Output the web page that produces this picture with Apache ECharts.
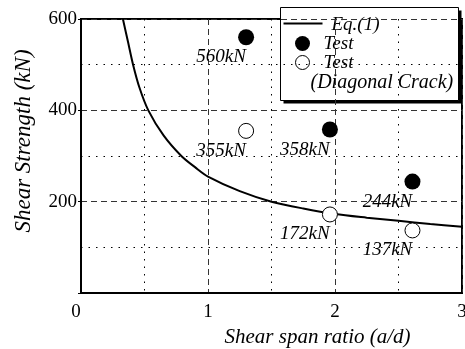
<!DOCTYPE html>
<html>
<head>
<meta charset="utf-8">
<script src="https://cdn.jsdelivr.net/npm/echarts@6/dist/echarts.min.js"></script>
<style>
  html, body { margin: 0; padding: 0; background: #fff; }
  #chart { width: 465px; height: 349px; }
</style>
</head>
<body>
<div id="chart"></div>
<script>
// Shear strength vs. shear span ratio
const xTicks = [0, 1, 2, 3];
const yTicks = [0, 200, 400, 600];

// Eq.(1) curve, sampled points (a/d, kN)
const eqCurve = [
  [0.33, 600], [0.37, 550], [0.41, 500], [0.46, 450], [0.53, 400],
  [0.65, 345], [0.79, 300], [0.90, 275], [1.0, 255], [1.25, 223],
  [1.5, 200], [1.75, 185], [2.0, 173], [2.25, 165], [2.5, 158],
  [2.75, 151], [3.0, 145]
];

// Test results (a/d, kN)
const testX = [1.3, 1.96, 2.61];
const testPeak = [560, 358, 244];
const testDiagonal = [355, 172, 137];

const serif = 'Liberation Serif';

const chart = echarts.init(document.getElementById('chart'), null, { renderer: 'canvas' });

const pointLabel = {
  show: true,
  position: 'inside',
  offset: [-25, 20],
  formatter: p => p.value[1] + 'kN',
  fontFamily: serif,
  fontStyle: 'italic',
  fontSize: 19,
  color: '#000'
};

const legendFont = { fontFamily: serif, fontStyle: 'italic', fontSize: 19, fill: '#000', verticalAlign: 'middle' };

chart.setOption({
  animation: false,
  backgroundColor: '#fff',
  grid: {
    left: 81, top: 19, right: 3, bottom: 56,
    outerBoundsMode: 'none',
    containLabel: false,
    show: true, borderColor: '#000', borderWidth: 2
  },
  xAxis: {
    type: 'value',
    min: xTicks[0], max: xTicks[xTicks.length - 1], interval: 1,
    name: 'Shear span ratio (a/d)',
    nameLocation: 'middle',
    nameGap: 28,
    nameTextStyle: {
      fontFamily: serif, fontStyle: 'italic', fontSize: 21, color: '#000',
      padding: [0, 0, 0, 92]
    },
    axisLine: { show: true, lineStyle: { color: '#000', width: 2 } },
    axisTick: { show: false },
    axisLabel: {
      fontFamily: serif, fontSize: 19, color: '#000', margin: 10,
      formatter: v => v === 0 ? '{z|0}' : String(v),
      rich: { z: { fontFamily: serif, fontSize: 19, color: '#000', padding: [0, 10, 0, 0] } }
    },
    splitLine: { show: true, lineStyle: { color: '#333', width: 1, type: [6, 4] } },
    minorTick: { show: false, splitNumber: 2 },
    minorSplitLine: { show: true, lineStyle: { color: '#000', width: 1, type: [1.5, 6] } }
  },
  yAxis: {
    type: 'value',
    min: yTicks[0], max: yTicks[yTicks.length - 1], interval: 200,
    name: 'Shear Strength (kN)',
    nameLocation: 'middle',
    nameGap: 46,
    nameTextStyle: {
      fontFamily: serif, fontStyle: 'italic', fontSize: 23, color: '#000',
      padding: [0, 0, 0, 30]
    },
    axisLine: { show: true, lineStyle: { color: '#000', width: 2 } },
    axisTick: { show: true, inside: false, length: 3, lineStyle: { color: '#000' } },
    axisLabel: {
      fontFamily: serif, fontSize: 19, color: '#000', margin: 4,
      formatter: v => v === 0 ? '' : String(v)
    },
    splitLine: { show: true, lineStyle: { color: '#333', width: 1, type: [6, 4] } },
    minorTick: { show: false, splitNumber: 2 },
    minorSplitLine: { show: true, lineStyle: { color: '#000', width: 1, type: [1.5, 6] } }
  },
  series: [
    {
      name: 'Eq.(1)',
      type: 'line',
      data: eqCurve,
      smooth: 0.3,
      symbol: 'none',
      lineStyle: { color: '#000', width: 2 },
      z: 3
    },
    {
      name: 'Test',
      type: 'scatter',
      data: testX.map((x, i) => [x, testPeak[i]]),
      symbol: 'circle',
      symbolSize: 16,
      itemStyle: { color: '#000', opacity: 1 },
      label: pointLabel,
      z: 4
    },
    {
      name: 'Test (Diagonal Crack)',
      type: 'scatter',
      data: testX.map((x, i) => [x, testDiagonal[i]]),
      symbol: 'circle',
      symbolSize: 15,
      itemStyle: { color: '#fff', borderColor: '#000', borderWidth: 1, opacity: 1 },
      label: pointLabel,
      z: 5
    }
  ],
  graphic: [
    {
      type: 'group',
      left: 280, top: 7,
      z: 100,
      children: [
        { type: 'rect', shape: { x: 3, y: 3, width: 178, height: 93 }, style: { fill: '#000' } },
        { type: 'rect', shape: { x: 0, y: 0, width: 178, height: 93 }, style: { fill: '#fff', stroke: '#000', lineWidth: 1 } },
        { type: 'line', shape: { x1: 3, y1: 16, x2: 42, y2: 16 }, style: { stroke: '#000', lineWidth: 2 } },
        { type: 'text', x: 51, y: 17, style: Object.assign({ text: 'Eq.(1)' }, legendFont) },
        { type: 'circle', shape: { cx: 22, cy: 36, r: 7.5 }, style: { fill: '#000' } },
        { type: 'text', x: 43, y: 36, style: Object.assign({ text: 'Test' }, legendFont) },
        { type: 'circle', shape: { cx: 22, cy: 55, r: 7 }, style: { fill: '#fff', stroke: '#000', lineWidth: 1 } },
        { type: 'text', x: 43, y: 55, style: Object.assign({ text: 'Test' }, legendFont) },
        { type: 'text', x: 30, y: 75, style: Object.assign({ text: '(Diagonal Crack)' }, legendFont, { fontSize: 20 }) }
      ]
    }
  ]
});
</script>
</body>
</html>
